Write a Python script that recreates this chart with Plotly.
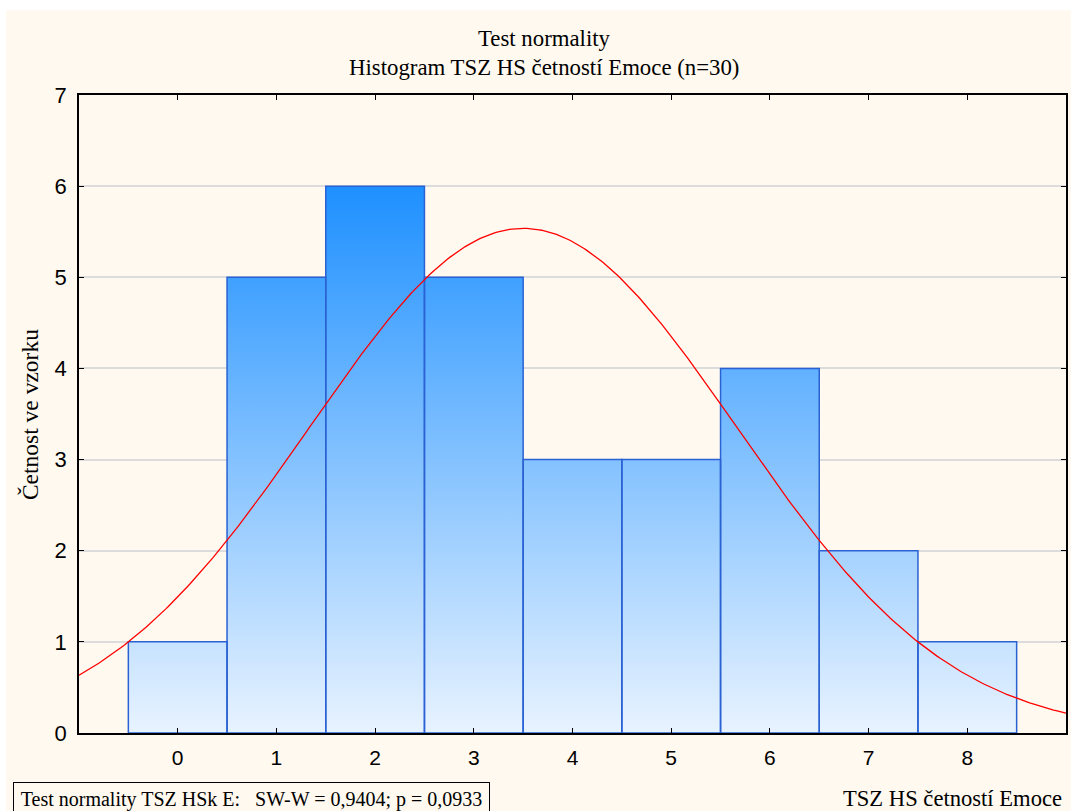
import numpy as np
import plotly.graph_objects as go

# histogram data
bins = [0, 1, 2, 3, 4, 5, 6, 7, 8]
counts = [1, 5, 6, 5, 3, 3, 4, 2, 1]
y_ticks = [0, 1, 2, 3, 4, 5, 6, 7]

title_1 = "Test normality"
title_2 = "Histogram TSZ HS četností Emoce (n=30)"
x_title = "TSZ HS četností Emoce"
y_title = "Četnost ve vzorku"
test_text = "Test normality TSZ HSk E:   SW-W = 0,9404; p = 0,0933"

W, H = 1073, 811
L, R, T, B = 79, 5, 95, 78
pw, ph = W - L - R, H - T - B


def px2x(p):
    return (p - L) / pw


def px2y(p):
    return (H - B - p) / ph


# bars as closed polygons so a vertical gradient can be used
xs, ys = [], []
for b, c in zip(bins, counts):
    xs += [b - 0.5, b - 0.5, b + 0.5, b + 0.5, b - 0.5, None]
    ys += [0, c, c, 0, 0, None]

# fitted normal curve from the counts
n = sum(counts)
vals = np.repeat(bins, counts)
mu = vals.mean()
sd = vals.std(ddof=1)
xc = np.linspace(-1, 9, 400)
yc = n * 1.0 / (sd * np.sqrt(2 * np.pi)) * np.exp(-(xc - mu) ** 2 / (2 * sd ** 2))

fig = go.Figure()
fig.add_trace(go.Scatter(
    x=xs, y=ys, mode="lines", fill="toself",
    line=dict(color="#2A62D4", width=1.5),
    fillgradient=dict(type="vertical",
                      colorscale=[[0, "#E8F3FF"], [1, "#1E90FF"]],
                      start=0, stop=6),
    hoverinfo="skip", showlegend=False,
))
fig.add_trace(go.Scatter(
    x=xc, y=yc, mode="lines",
    line=dict(color="#FF0000", width=1.3),
    showlegend=False,
))

serif = "Liberation Serif, Times New Roman, serif"
sans = "Liberation Sans, Arial, sans-serif"

fig.update_layout(
    width=W, height=H,
    margin=dict(l=L, r=R, t=T, b=B),
    paper_bgcolor="white",
    plot_bgcolor="white",
    xaxis=dict(range=[-1, 9], tickvals=bins, ticks="inside", ticklen=5,
               tickcolor="black", showline=True, linecolor="black",
               linewidth=1.5, mirror="ticks", showgrid=False, zeroline=False,
               ticklabelstandoff=5,
               tickfont=dict(family=sans, size=21, color="black")),
    yaxis=dict(range=[0, 7], tickvals=y_ticks, ticks="inside", ticklen=5,
               tickcolor="black", showline=True, linecolor="black",
               linewidth=1.5, mirror="ticks", showgrid=True,
               gridcolor="#DCDCDC", gridwidth=1.5, zeroline=False,
               ticklabelstandoff=6,
               tickfont=dict(family=sans, size=22, color="black")),
    shapes=[dict(type="rect", xref="paper", yref="paper",
                 x0=px2x(6), x1=px2x(W), y0=px2y(H), y1=px2y(10),
                 fillcolor="#FFF9EF", line=dict(width=0), layer="below")],
    annotations=[
        dict(text=title_1, xref="paper", yref="paper", x=px2x(545), y=px2y(39),
             xanchor="center", yanchor="middle", showarrow=False,
             font=dict(family=serif, size=22.8, color="black")),
        dict(text=title_2, xref="paper", yref="paper", x=px2x(545), y=px2y(67),
             xanchor="center", yanchor="middle", showarrow=False,
             font=dict(family=serif, size=22.8, color="black")),
        dict(text=y_title, xref="paper", yref="paper", x=px2x(30), y=px2y(415),
             xanchor="center", yanchor="middle", textangle=-90, showarrow=False,
             font=dict(family=serif, size=23.5, color="black")),
        dict(text=x_title, xref="paper", yref="paper", x=px2x(1066), y=px2y(798),
             xanchor="right", yanchor="middle", showarrow=False,
             font=dict(family=serif, size=22.6, color="black")),
        dict(text=test_text, xref="paper", yref="paper", x=px2x(13), y=px2y(782),
             xanchor="left", yanchor="top", showarrow=False, align="center",
             width=475, height=32, bordercolor="black", borderwidth=1,
             borderpad=0, bgcolor="#FFF9EF",
             font=dict(family=serif, size=20, color="black")),
    ],
)

fig.write_html("out.html", config={"displayModeBar": False},
               post_script="document.body.style.margin='0';")
